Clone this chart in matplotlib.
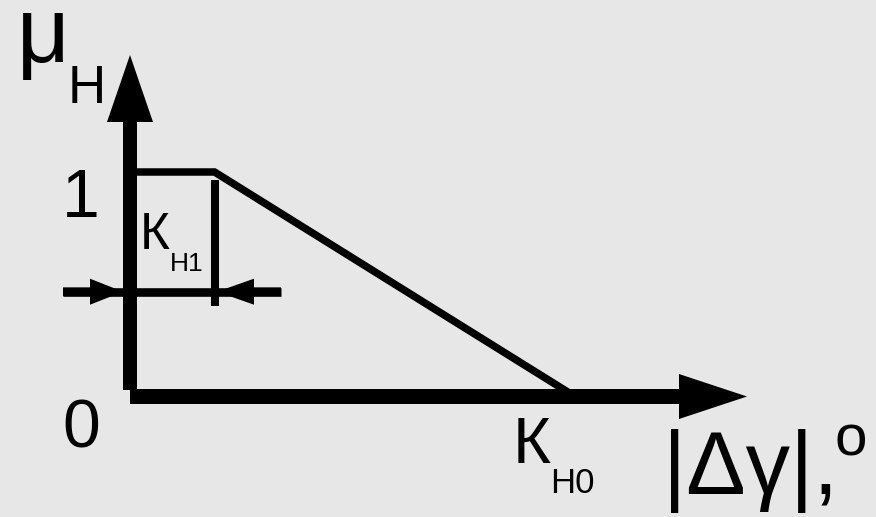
import matplotlib
matplotlib.use('Agg')
import matplotlib.pyplot as plt

# ---- data: membership function mu_H(|dgamma|) ----
k_h1 = 1.9          # end of plateau (K_H1)
k_h0 = 10.0         # zero point (K_H0)
mu_x = [0.0, k_h1, k_h0]
mu_y = [1.0, 1.0, 0.0]
tick_labels_y = ['0', '1']

plt.rcParams['font.family'] = ['Liberation Sans', 'DejaVu Sans']

BG = '#e7e7e7'
fig = plt.figure(figsize=(8.76, 5.17), dpi=100)
fig.patch.set_facecolor(BG)
ax = fig.add_axes([0, 0, 1, 1])
ax.set_facecolor(BG)

# layout helpers (pixel -> data) for decorations
PXX, PXY, X0, Y0 = 44.5, 224.5, 130.0, 396.5
def X(px):
    return (px - X0) / PXX
def Y(py):
    return (Y0 - py) / PXY

ax.set_xlim(X(0), X(876))
ax.set_ylim(Y(517), Y(0))
ax.axis('off')

# axes with arrow heads
ax.arrow(0, Y(390), 0, Y(55) - Y(390), width=14 / PXX, head_width=46 / PXX,
         head_length=67 / PXY, length_includes_head=True, fc='k', ec='none', lw=0)
ax.arrow(0, 0, X(747), 0, width=15 / PXY, head_width=45 / PXY,
         head_length=68 / PXX, length_includes_head=True, fc='k', ec='none', lw=0)

# membership function
ax.plot(mu_x, mu_y, color='k', lw=5.4, solid_joinstyle='miter', solid_capstyle='butt')

# K_H1 marker line
ax.plot([k_h1, k_h1], [Y(180), Y(306)], color='k', lw=5.8, solid_capstyle='butt')

# dimension line with arrows
yd = Y(291.7)
ax.plot([X(63), X(281)], [yd, yd], color='k', lw=6.2, solid_capstyle='butt')
ax.arrow(X(63), yd, X(123) - X(63), 0, width=8.7 / PXY, head_width=26 / PXY,
         head_length=33 / PXX, length_includes_head=True, fc='k', ec='none', lw=0)
ax.arrow(X(281), yd, X(217) - X(281), 0, width=8.7 / PXY, head_width=26 / PXY,
         head_length=37 / PXX, length_includes_head=True, fc='k', ec='none', lw=0)

# texts
kw = dict(color='k', va='baseline')
ax.text(X(17), Y(62), 'μ', fontsize=66, ha='left', **kw)
ax.text(X(68), Y(103), 'Н', fontsize=38, ha='left', **kw)
ax.text(X(81), Y(217), tick_labels_y[1], fontsize=49, ha='center', **kw)
ax.text(X(81.5), Y(447), tick_labels_y[0], fontsize=49, ha='center', **kw)
ax.text(X(140), Y(249), 'К', fontsize=37, ha='left', **kw)
ax.text(X(170), Y(271), 'Н1', fontsize=19, ha='left', **kw)
ax.text(X(513), Y(463), 'К', fontsize=47, ha='left', **kw)
ax.text(X(550), Y(493), 'Н0', fontsize=25, ha='left', **kw)
ax.text(X(663), Y(494), '|Δγ|,', fontsize=64, ha='left', **kw)
ax.text(X(851), Y(455), 'o', fontsize=42, ha='center', **kw)

fig.savefig('out.png', dpi=100, facecolor=BG)
